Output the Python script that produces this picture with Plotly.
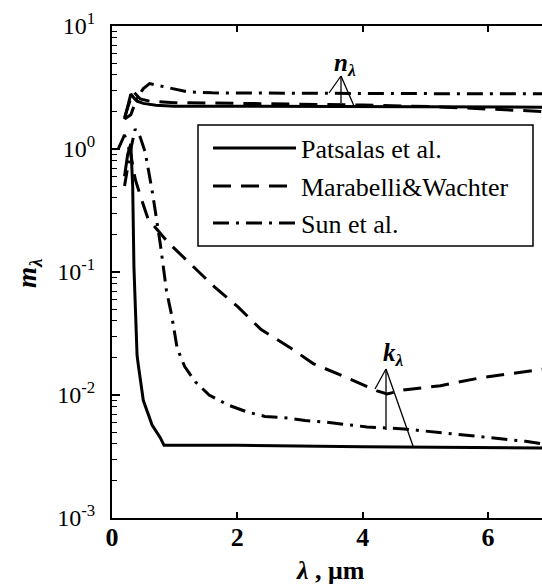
import plotly.graph_objects as go

# ---------------- data ----------------
# refractive index n (upper curves)
wl_pat_n = [0.2, 0.25, 0.3, 0.35, 0.4, 0.5, 0.7, 1.0, 2.0, 3.0, 4.0, 5.0, 6.0, 6.87]
n_pat = [1.75, 2.2, 2.8, 2.6, 2.45, 2.35, 2.27, 2.23, 2.22, 2.21, 2.2, 2.2, 2.19, 2.19]

wl_mar_n = [0.2, 0.3, 0.35, 0.45, 0.6, 1.0, 2.0, 3.0, 4.0, 5.24, 6.0, 6.87]
n_mar = [1.8, 2.6, 2.9, 2.55, 2.45, 2.38, 2.35, 2.32, 2.28, 2.2, 2.12, 2.02]

wl_sun_n = [0.2, 0.3, 0.4, 0.5, 0.6, 0.9, 1.2, 1.6, 2.0, 3.0, 4.0, 5.0, 6.0, 6.87]
n_sun = [1.75, 1.9, 2.6, 3.1, 3.4, 3.15, 2.92, 2.86, 2.85, 2.84, 2.83, 2.82, 2.81, 2.81]

# absorption index k (lower curves)
wl_pat_k = [0.2, 0.25, 0.3, 0.33, 0.35, 0.38, 0.4, 0.42, 0.5, 0.64, 0.77, 0.83, 2.0, 4.0, 6.0, 6.87]
k_pat = [0.6, 0.9, 1.1, 0.5, 0.11, 0.035, 0.021, 0.0175, 0.009, 0.0057, 0.0045, 0.0039,
         0.0039, 0.0038, 0.0037, 0.0037]

wl_mar_k = [0.1, 0.2, 0.3, 0.37, 0.45, 0.575, 0.9, 1.26, 1.63, 2.01, 2.38, 2.83, 3.21, 3.75,
            4.23, 4.39, 4.65, 5.24, 5.88, 6.87]
k_mar = [1.0, 1.3, 0.9, 0.57, 0.42, 0.27, 0.173, 0.115, 0.076, 0.052, 0.034, 0.0245, 0.018,
         0.0138, 0.0108, 0.0102, 0.011, 0.0119, 0.0138, 0.0162]

wl_sun_k = [0.2, 0.3, 0.37, 0.45, 0.53, 0.6, 0.64, 0.77, 0.87, 0.95, 1.04, 1.16, 1.33, 1.55,
            1.85, 2.15, 2.44, 2.8, 3.08, 3.43, 4.07, 4.66, 5.34, 6.0, 6.6, 6.87]
k_sun = [0.5, 1.0, 1.45, 1.25, 0.94, 0.59, 0.46, 0.17, 0.07, 0.045, 0.024, 0.017, 0.0128,
         0.010, 0.0083, 0.0073, 0.0067, 0.0065, 0.0062, 0.006, 0.0055, 0.0053, 0.0049,
         0.0045, 0.0042, 0.0040]

series_names = ["Patsalas et al.", "Marabelli&Wachter", "Sun et al."]
x_ticks = [0, 2, 4, 6]
y_ticks = [1e-3, 1e-2, 1e-1, 1e0, 1e1]
y_ticktext = ["10<sup>-3</sup>", "10<sup>-2</sup>", "10<sup>-1</sup>", "10<sup>0</sup>", "10<sup>1</sup>"]

# ---------------- styling ----------------
FONT = "Times New Roman"
DASH = "18px,10px"
DASHDOT = "16px,7px,3px,7px"
styles = ["solid", DASH, DASHDOT]

W, H = 542, 585
L, R, T, B = 112, 0, 26, 67
PW, PH = W - L - R, H - T - B


def px(x):
    return (x - L) / PW


def py(y):
    return (H - B - y) / PH


fig = go.Figure()
pairs = [(wl_pat_n, n_pat, 0), (wl_mar_n, n_mar, 1), (wl_sun_n, n_sun, 2),
         (wl_pat_k, k_pat, 0), (wl_mar_k, k_mar, 1), (wl_sun_k, k_sun, 2)]
for xs, ys, s in pairs:
    fig.add_trace(go.Scatter(x=xs, y=ys, mode="lines", showlegend=False,
                             line=dict(color="black", width=3, dash=styles[s])))

minor_vals = [m * 10 ** e for e in range(-3, 1) for m in range(2, 10)]

shapes = []
annotations = []

# legend (drawn manually to reproduce long line samples)
shapes.append(dict(type="rect", xref="paper", yref="paper",
                   x0=px(198), x1=px(533), y0=py(246), y1=py(125),
                   line=dict(color="black", width=1.5), fillcolor="white", layer="above"))
rows = [148, 186, 223]
for i, name in enumerate(series_names):
    shapes.append(dict(type="line", xref="paper", yref="paper",
                       x0=px(213), x1=px(296), y0=py(rows[i]), y1=py(rows[i]),
                       line=dict(color="black", width=3, dash=styles[i]), layer="above"))
    annotations.append(dict(xref="paper", yref="paper", x=px(299), y=py(rows[i] + 1),
                            xanchor="left", yanchor="middle", showarrow=False,
                            text=name, font=dict(family=FONT, size=26, color="black")))

# leader lines for n and k labels
leaders = [((341, 76), (329, 93)), ((341, 76), (341, 103)), ((341, 76), (354, 106)),
           ((386, 369), (375, 389)), ((386, 369), (386, 430)), ((386, 369), (413, 446))]
for (a, b) in leaders:
    shapes.append(dict(type="line", xref="paper", yref="paper",
                       x0=px(a[0]), y0=py(a[1]), x1=px(b[0]), y1=py(b[1]),
                       line=dict(color="black", width=1.3)))

annotations.append(dict(xref="paper", yref="paper", x=px(345), y=py(64), showarrow=False,
                        xanchor="center", yanchor="middle",
                        text="<b><i>n</i></b><sub><b><i>λ</i></b></sub>",
                        font=dict(family=FONT, size=25, color="black")))
annotations.append(dict(xref="paper", yref="paper", x=px(393), y=py(354), showarrow=False,
                        xanchor="center", yanchor="middle",
                        text="<b><i>k</i></b><sub><b><i>λ</i></b></sub>",
                        font=dict(family=FONT, size=25, color="black")))

# axis titles
annotations.append(dict(xref="paper", yref="paper", x=px(330), y=py(587), showarrow=False,
                        xanchor="center", yanchor="bottom",
                        text="<b><i>λ</i> , μm</b>",
                        font=dict(family=FONT, size=26, color="black")))
annotations.append(dict(xref="paper", yref="paper", x=px(29), y=py(274), showarrow=False,
                        xanchor="center", yanchor="middle", textangle=-90,
                        text="<b><i>m</i></b><sub><b><i>λ</i></b></sub>",
                        font=dict(family=FONT, size=27, color="black")))

fig.update_layout(
    width=W, height=H,
    margin=dict(l=L, r=R, t=T, b=B, pad=0),
    paper_bgcolor="white", plot_bgcolor="white",
    showlegend=False,
    font=dict(family=FONT, color="black", size=22),
    shapes=shapes, annotations=annotations,
    xaxis=dict(range=[0, PW / 62.67], tickvals=x_ticks, ticks="inside", ticklen=6,
               tickwidth=1.5, tickcolor="black", showline=True, linecolor="black",
               linewidth=2, mirror="ticks", showgrid=False, zeroline=False,
               tickfont=dict(family=FONT, size=26, color="black", weight="bold"),
               ticklabelstandoff=-5),
    yaxis=dict(type="log", range=[-3, 1], tickvals=y_ticks, ticktext=y_ticktext,
               ticks="inside", ticklen=8, tickwidth=1.5, tickcolor="black",
               showline=True, linecolor="black", linewidth=2, mirror=False,
               showgrid=False, zeroline=False,
               tickfont=dict(family=FONT, size=24, color="black"),
               ticklabelstandoff=10,
               minor=dict(tickvals=minor_vals, ticks="inside", ticklen=5,
                          tickwidth=1.2, tickcolor="black", showgrid=False)),
)

fig.write_html("out.html")
